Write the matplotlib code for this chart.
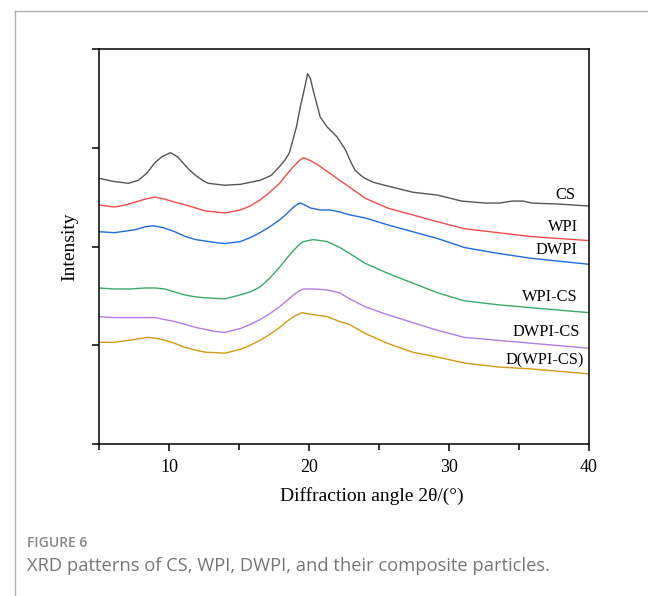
import matplotlib
matplotlib.use("Agg")
from matplotlib import pyplot as plt
from matplotlib.lines import Line2D

plt.rcParams['font.family'] = ['Liberation Serif', 'DejaVu Serif']

# XRD data (2theta in degrees, intensity in a.u.)
cs_x = [5, 6, 7.1, 7.8, 8.4, 9, 9.5, 10.1, 10.6, 11.1, 11.5, 11.9, 12.4, 12.8, 14, 15.1, 16.5, 17.3,
        17.9, 18.3, 18.6, 19.1, 19.4, 19.6, 19.9, 20.1, 20.3, 20.8, 21.3, 22, 22.6, 23, 23.3, 23.7,
        24, 24.6, 25.4, 27.4, 29.2, 30.9, 32.6, 33.6, 34.5, 35.3, 35.9, 37.8, 40]
cs_y = [269, 266, 264, 267, 274, 285, 291, 295, 291, 283, 277, 272, 267, 264, 262, 263, 267, 272,
        281, 288, 295, 321, 343, 355, 375, 370, 358, 331, 321, 311, 298, 285, 277, 272,
        269, 265, 262, 255, 252, 246, 244, 244, 246, 246, 244, 243, 241]

wpi_x = [5, 6.1, 6.9, 7.6, 8.3, 9, 9.7, 10.4, 11.2, 11.9, 12.6, 13.3, 14, 15.1, 15.8, 16.5, 17.2,
         17.9, 18.4, 18.9, 19.3, 19.6, 20.1, 20.6, 21.5, 22.2, 22.9, 24, 25.6, 27.4, 29.2, 31.1,
         33.5, 35.9, 40]
wpi_y = [242, 240, 242, 245, 248, 250, 248, 245, 242, 239, 236, 235, 234, 237, 241, 247, 255,
         264, 273, 281, 287, 290, 287, 283, 274, 267, 260, 249, 239, 232, 225, 218,
         214, 210, 206]

dwpi_x = [5, 6.1, 7.6, 8.3, 8.9, 9.6, 10.4, 11.2, 11.9, 13.3, 14, 15.1, 15.8, 16.5, 17.2, 17.9,
          18.4, 18.9, 19.2, 19.4, 19.7, 20.1, 20.8, 21.5, 22.2, 22.9, 24, 25.6, 27.4, 29.2, 31.1,
          33.5, 35.9, 40]
dwpi_y = [215, 214, 217, 220, 221, 219, 215, 210, 207, 204, 203, 205, 209, 214, 220, 227,
          233, 240, 243, 244, 242, 239, 237, 237, 235, 232, 229, 222, 215, 208, 199,
          193, 188, 182]

wpics_x = [5, 6.1, 7.2, 8.3, 9, 9.7, 10.4, 11.1, 11.9, 12.6, 14, 15.1, 15.8, 16.5, 17.2, 17.9,
           18.4, 18.9, 19.3, 19.6, 20.3, 21.3, 22.2, 22.9, 24, 25.6, 27.4, 29.2, 31.1, 33.5,
           35.9, 40]
wpics_y = [158, 157, 157, 158, 158, 157, 154, 151, 149, 148, 147, 151, 154, 159, 168, 179,
           188, 196, 202, 205, 207, 205, 199, 193, 183, 173, 163, 153, 145, 141,
           138, 133]

dwpics_x = [5, 6.1, 8.3, 9, 9.7, 10.4, 11.2, 11.9, 13.3, 14, 15.1, 15.8, 16.5, 17.2, 17.9, 18.4,
            18.9, 19.3, 19.6, 20.3, 21.3, 22.2, 22.9, 24, 25.6, 27.4, 29.2, 31.1, 33.5, 35.9, 40]
dwpics_y = [129, 128, 128, 128, 126, 124, 121, 118, 114, 113, 117, 121, 126, 132, 139, 145,
            151, 155, 157, 157, 156, 153, 147, 139, 131, 123, 115, 108, 105, 102, 97]

dwc_x = [5, 6.1, 7.6, 8.5, 9.1, 9.7, 10.4, 11.1, 11.9, 12.6, 14, 15.1, 15.8, 16.5, 17.2, 17.9,
         18.4, 18.9, 19.5, 20.3, 21.3, 22.2, 22.9, 24, 25.6, 27.4, 29.2, 31.1, 33.5, 35.9, 40]
dwc_y = [103, 103, 106, 108, 107, 105, 102, 98, 95, 93, 92, 96, 100, 105, 111, 118,
         124, 129, 133, 131, 129, 124, 121, 112, 102, 93, 88, 82, 78, 76, 71]

names = ["CS", "WPI", "DWPI", "WPI-CS", "DWPI-CS", "D(WPI-CS)"]
xs = [cs_x, wpi_x, dwpi_x, wpics_x, dwpics_x, dwc_x]
ys = [cs_y, wpi_y, dwpi_y, wpics_y, dwpics_y, dwc_y]
colors = ["#555555", "#f24b4b", "#1f6be0", "#3aaa6a", "#b07ee6", "#d29a17"]
# label anchors (right aligned)
label_pos = [(39.0, 252), (39.2, 220), (39.2, 196), (39.2, 149), (39.35, 113), (39.65, 85)]

fig = plt.figure(figsize=(6.48, 5.96), dpi=100)
ax = fig.add_axes([0.1528, 0.255, 0.7562, 0.6628])

for x, y, c in zip(xs, ys, colors):
    ax.plot(x, y, color=c, lw=1.0)
for n, (lx, ly) in zip(names, label_pos):
    ax.text(lx, ly, n, ha="right", va="center", fontsize=11.8)

ax.set_xlim(5, 40)
ax.set_ylim(0, 400)
ax.set_xticks([10, 20, 30, 40])
ax.set_xticks([5, 15, 25, 35], minor=True)
ax.set_yticks([0, 100, 200, 300, 400])
ax.set_yticklabels([])
ax.tick_params(axis="both", direction="out", length=5, width=1.1, labelsize=13, pad=6)
ax.tick_params(axis="x", which="minor", direction="out", length=4, width=1.1)
for s in ax.spines.values():
    s.set_linewidth(1.1)
ax.set_xlabel("Diffraction angle 2θ/(°)", fontsize=14)
ax.set_ylabel("Intensity", fontsize=14)
ax.xaxis.set_label_coords(0.557, -0.108)
ax.yaxis.set_label_coords(-0.043, 0.5)

# page frame and caption
fig.add_artist(Line2D([15 / 648, 1], [1 - 11 / 596, 1 - 11 / 596], color="#b0b0b0", lw=1.0))
fig.add_artist(Line2D([15 / 648, 15 / 648], [0, 1 - 11 / 596], color="#b0b0b0", lw=1.0))
fig.text(27 / 648, 1 - 543 / 596, "FIGURE 6", family="Open Sans", fontsize=10,
         fontweight="semibold", color="#888888", va="center")
fig.text(27 / 648, 1 - 566 / 596, "XRD patterns of CS, WPI, DWPI, and their composite particles.",
         family="Open Sans", fontsize=13.2, color="#777777", va="center")

plt.savefig("out.png", dpi=100)
